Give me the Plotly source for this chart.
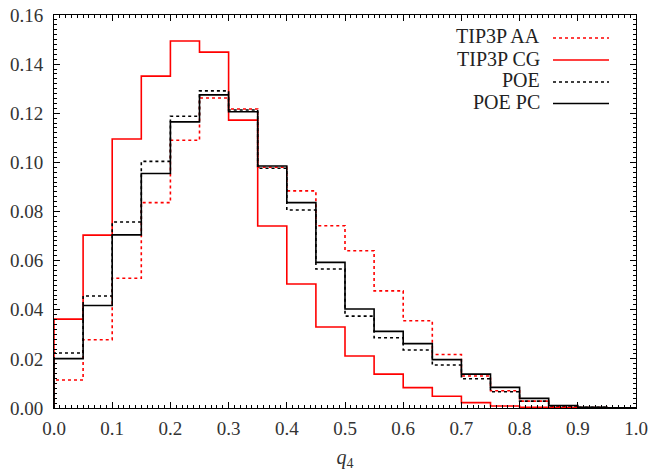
import plotly.graph_objects as go

bin_edges = [round(0.05 * i, 2) for i in range(21)]
tip3p_aa = [0.0114, 0.0278, 0.0528, 0.0836, 0.1090, 0.1262, 0.1217, 0.0980, 0.0884, 0.0742,
            0.0640, 0.0477, 0.0355, 0.0218, 0.0130, 0.0070, 0.0028, 0.0006, 0.0002, 0.0001]
tip3p_cg = [0.0362, 0.0704, 0.1095, 0.1351, 0.1494, 0.1449, 0.1172, 0.0741, 0.0505, 0.0330,
            0.0212, 0.0138, 0.0083, 0.0048, 0.0022, 0.0008, 0.0003, 0.0001, 0.0, 0.0]
poe = [0.0224, 0.0456, 0.0757, 0.1004, 0.1188, 0.1291, 0.1213, 0.0976, 0.0806, 0.0566,
       0.0374, 0.0286, 0.0236, 0.0175, 0.0119, 0.0066, 0.0028, 0.0008, 0.0003, 0.0001]
poe_pc = [0.0201, 0.0417, 0.0705, 0.0955, 0.1165, 0.1275, 0.1206, 0.0985, 0.0836, 0.0593,
          0.0403, 0.0312, 0.0262, 0.0197, 0.0138, 0.0084, 0.0039, 0.0010, 0.0003, 0.0001]

series = [
    ("TIP3P AA", tip3p_aa, "#ff0000", "dot", 1.6),
    ("TIP3P CG", tip3p_cg, "#ff0000", "solid", 1.6),
    ("POE", poe, "#000000", "dot", 1.6),
    ("POE PC", poe_pc, "#000000", "solid", 1.6),
]

FONT = "Liberation Serif"
fig = go.Figure()
for name, vals, color, dash, w in series:
    fig.add_trace(go.Scatter(
        x=[bin_edges[0]] + bin_edges, y=[0] + vals + [vals[-1]],
        mode="lines", line=dict(shape="hv", color=color, dash=dash, width=w),
        name=name, showlegend=False))

# manual legend (text left of sample line)
L, R, T, B = 54, 14, 15, 66
W, H = 650 - L - R, 474 - T - B
rows_py = [36.5, 58.5, 80.5, 102]
for (name, vals, color, dash, w), py in zip(series, rows_py):
    yp = (408 - py) / H
    fig.add_annotation(x=(541 - L) / W, y=yp, xref="paper", yref="paper", text=name,
                       showarrow=False, xanchor="right", yanchor="middle", borderpad=0,
                       font=dict(family=FONT, size=20, color="#222"))
    fig.add_shape(type="line", xref="paper", yref="paper",
                  x0=(553 - L) / W, x1=(609 - L) / W, y0=(408 - py - 1.5) / H, y1=(408 - py - 1.5) / H,
                  line=dict(color=color, dash=dash, width=w))

axis_common = dict(showline=True, linecolor="black", linewidth=1, mirror="allticks",
                   ticks="inside", ticklen=6, tickcolor="black", showgrid=False, zeroline=False,
                   automargin=False,
                   tickfont=dict(family=FONT, size=19, color="#333"))
fig.update_xaxes(range=[0, 1], dtick=0.1, tickformat=".1f", ticklabelstandoff=3,
                 minor=dict(ticks="inside", ticklen=3, dtick=0.01, tickcolor="black", showgrid=False),
                 title=dict(text="<i>q</i><sub>4</sub>", font=dict(family=FONT, size=20, color="#333"), standoff=12),
                 **axis_common)
fig.update_yaxes(range=[0, 0.16], dtick=0.02, tickformat=".2f", ticklabelstandoff=6,
                 minor=dict(ticks="inside", ticklen=3, dtick=0.002, tickcolor="black", showgrid=False),
                 **axis_common)
fig.update_layout(width=650, height=474, margin=dict(l=L, r=R, t=T, b=B),
                  plot_bgcolor="white", paper_bgcolor="white", showlegend=False)
fig.write_html("out.html", config={"displayModeBar": False},
               post_script="document.body.style.margin='0';document.body.style.padding='0';")
